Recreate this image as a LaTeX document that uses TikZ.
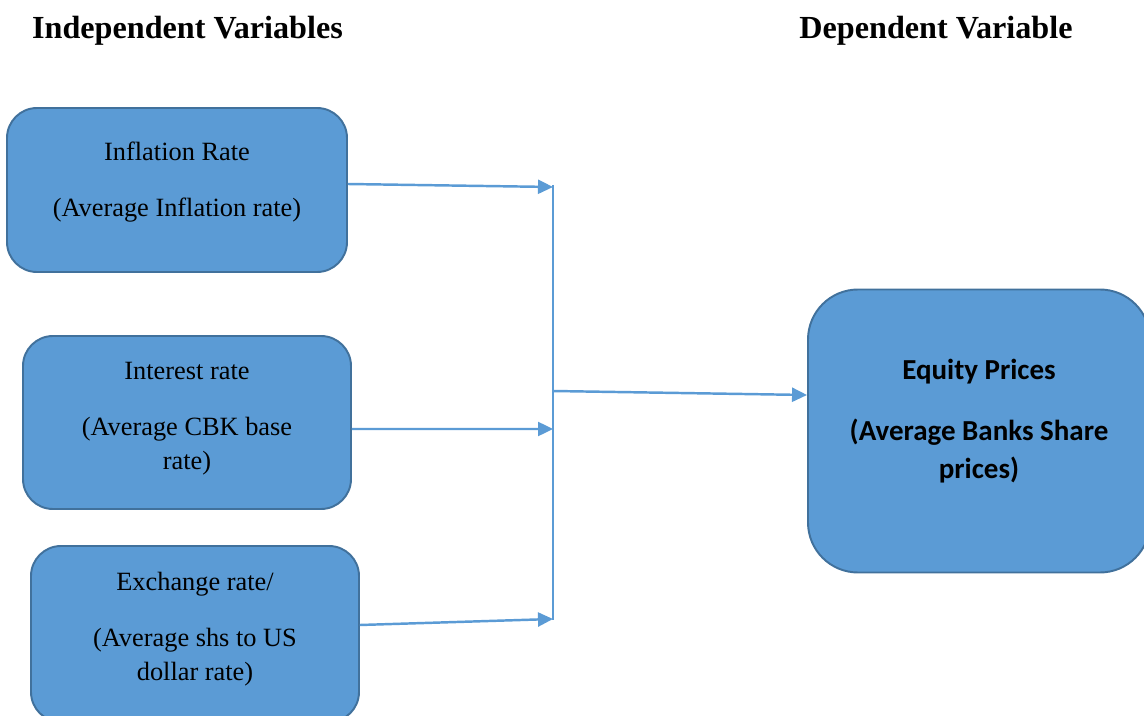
\documentclass[tikz,border=0pt]{standalone}
\usepackage{fontspec}
\setmainfont{Liberation Serif}
\newfontfamily\calibri{Carlito}
\usetikzlibrary{arrows.meta}
\definecolor{boxfill}{HTML}{5B9BD5}
\definecolor{boxline}{HTML}{41719C}
\tikzstyle{varbox} = [
    rectangle,
    rounded corners=0.6cm,
    draw=boxline,
    fill=boxfill,
    line width=1.1pt,
    align=center,
    font=\fontsize{15}{19.4}\selectfont
]
\tikzstyle{heading} = [
    font=\fontsize{18.3}{22}\selectfont\bfseries
]
\tikzstyle{arrow} = [draw=boxfill, line width=1.4pt, -{Triangle[length=0.3cm,width=0.28cm]}]

\begin{document}
\begin{tikzpicture}
\useasboundingbox (0,0) rectangle (22.88,-14.32);

\node (indep) [heading] at (3.75,-0.62) {Independent Variables};

\node (dep) [heading] at (18.72,-0.62) {Dependent Variable};

\node (inflation) [varbox, minimum width=6.8cm, minimum height=3.28cm, text depth=0.42cm] at (3.54,-3.80)
{Inflation Rate\\[12.5pt] (Average Inflation rate)};

\node (interest) [varbox, minimum width=6.56cm, minimum height=3.46cm, text depth=0.28cm] at (3.74,-8.45)
{Interest rate\\[12.5pt] (Average CBK base\\ rate)};

\node (exchange) [varbox, minimum width=6.56cm, minimum height=3.52cm, text depth=0.30cm] at (3.90,-12.68)
{Exchange rate/\\[12.5pt] (Average shs to US\\ dollar rate)};

\node (equity) [varbox, rounded corners=1cm, minimum width=6.84cm, minimum height=5.66cm, text depth=0.49cm,
    font=\calibri\fontsize{16.5}{21.6}\selectfont\bfseries] at (19.58,-8.62)
{Equity Prices\\[13pt] (Average Banks Share\\ prices)};

% junction line
\coordinate (jtop) at (11.06,-3.70);
\coordinate (jbot) at (11.06,-12.40);
\coordinate (jin1) at (11.06,-3.74);
\coordinate (jin2) at (11.06,-8.58);
\coordinate (jin3) at (11.06,-12.38);
\coordinate (jout) at (11.06,-7.82);

\draw [draw=boxfill, line width=0.7pt] (jtop) -- (jbot);

\draw [arrow] ([yshift=0.12cm]inflation.east) -- (jin1);
\draw [arrow] ([yshift=-0.13cm]interest.east) -- (jin2);
\draw [arrow] ([yshift=0.18cm]exchange.east) -- (jin3);
\draw [arrow] (jout) -- ([yshift=0.72cm]equity.west);

\end{tikzpicture}
\end{document}
